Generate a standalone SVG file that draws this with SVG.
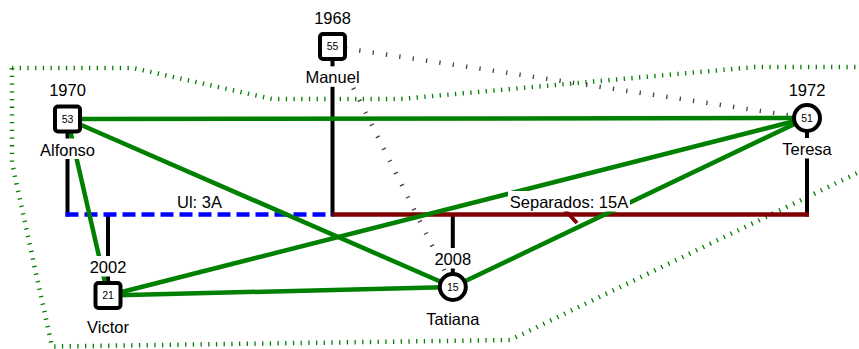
<svg xmlns="http://www.w3.org/2000/svg" width="859" height="349" viewBox="0 0 859 349">
<style>
text{font-family:"Liberation Sans",Arial,sans-serif;fill:#000}
.lbl{font-size:16.5px;text-anchor:middle}
.num{font-size:10.5px;text-anchor:middle}
.bg{fill:#fff}
.node{fill:#fff;stroke:#000;stroke-width:4}
.fam{stroke:#000;stroke-width:4;fill:none}
.rel{stroke:#008000;stroke-width:4.5;fill:none}
.grey{stroke:#404040;stroke-width:4.5;stroke-dasharray:1.3 12.2;fill:none}
.zone{stroke:#008000;stroke-width:4.5;stroke-dasharray:1.3 6.4;fill:none}
</style>
<rect width="859" height="349" fill="#fff"/>
<g id="connectors">
<polygon class="zone" points="12,68 133,68 272,99 400,99 755,67 875,67 875,164.5 510,340 52,346.5 12,163"/>
<line class="grey" x1="332.5" y1="46.5" x2="807" y2="118"/>
<line class="grey" x1="353.3" y1="88" x2="452.8" y2="287"/>
<line class="fam" x1="67.5" y1="119" x2="67.5" y2="216.5"/>
<line class="fam" x1="332.5" y1="46.5" x2="332.5" y2="216.5"/>
<line class="fam" x1="807" y1="118" x2="807" y2="216.5"/>
<line class="fam" x1="108" y1="214.5" x2="108" y2="295.5"/>
<line class="fam" x1="452.8" y1="214.5" x2="452.8" y2="287"/>
<line x1="65.5" y1="214.5" x2="332.5" y2="214.5" stroke="#0000ff" stroke-width="4.5" stroke-dasharray="13 6"/>
<line x1="332.5" y1="214.5" x2="809" y2="214.5" stroke="#800000" stroke-width="4.5"/>
<line x1="562" y1="207" x2="577" y2="223" stroke="#800000" stroke-width="4"/>
<line class="rel" x1="67.5" y1="119" x2="807" y2="118"/>
<line class="rel" x1="67.5" y1="119" x2="452.8" y2="287"/>
<line class="rel" x1="67.5" y1="119" x2="108" y2="295.5"/>
<line class="rel" x1="108" y1="295.5" x2="807" y2="118"/>
<line class="rel" x1="108" y1="295.5" x2="452.8" y2="287"/>
<line class="rel" x1="452.8" y1="287" x2="807" y2="118"/>
<rect class="bg" x="175.5" y="191" width="48" height="20.5"/>
<text class="lbl" x="199.5" y="208">Ul: 3A</text>
<rect class="bg" x="508" y="191" width="122" height="20.5"/>
<text class="lbl" x="569" y="208">Separados: 15A</text>
</g>
<g id="alfonso">
<rect class="bg" x="48" y="79" width="39" height="20.5"/>
<text class="lbl" x="67.5" y="96">1970</text>
<rect class="bg" x="39" y="138.5" width="57" height="20.5"/>
<text class="lbl" x="67.5" y="155.5">Alfonso</text>
<rect class="node" x="55" y="106.5" width="25" height="25" rx="3"/>
<text class="num" x="67.5" y="122.7">53</text>
</g>
<g id="manuel">
<rect class="bg" x="313" y="7" width="39" height="20.5"/>
<text class="lbl" x="332.5" y="24">1968</text>
<rect class="bg" x="304.5" y="66.3" width="56" height="20.5"/>
<text class="lbl" x="332.5" y="83.3">Manuel</text>
<rect class="node" x="320" y="34" width="25" height="25" rx="3"/>
<text class="num" x="332.5" y="50.2">55</text>
</g>
<g id="teresa">
<rect class="bg" x="787.5" y="79" width="39" height="20.5"/>
<text class="lbl" x="807" y="96">1972</text>
<rect class="bg" x="780" y="138" width="54" height="20.5"/>
<text class="lbl" x="807" y="155">Teresa</text>
<circle class="node" cx="807" cy="118" r="13"/>
<text class="num" x="807" y="121.7">51</text>
</g>
<g id="victor">
<rect class="bg" x="88.5" y="256" width="39" height="20.5"/>
<text class="lbl" x="108" y="273">2002</text>
<rect class="bg" x="86" y="315.7" width="44" height="20.5"/>
<text class="lbl" x="108" y="332.7">Victor</text>
<rect class="node" x="95.5" y="283" width="25" height="25" rx="3"/>
<text class="num" x="108" y="299.2">21</text>
</g>
<g id="tatiana">
<rect class="bg" x="433.3" y="248" width="39" height="20.5"/>
<text class="lbl" x="452.8" y="265">2008</text>
<rect class="bg" x="424.3" y="308" width="57" height="20.5"/>
<text class="lbl" x="452.8" y="325">Tatiana</text>
<circle class="node" cx="452.8" cy="287" r="13"/>
<text class="num" x="452.8" y="290.7">15</text>
</g>
</svg>
